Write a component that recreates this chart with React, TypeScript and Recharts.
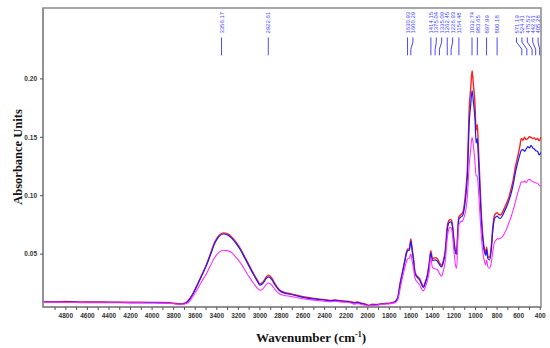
import { LineChart, Line, XAxis, YAxis, ReferenceLine, ReferenceDot, ReferenceArea, Label } from 'recharts';

// wavenumber (cm-1), descending
const wavenumbers = [
  5010, 4900, 4800, 4700, 4600, 4500, 4400, 4300, 4200, 4100, 4000, 3900, 3800, 3740, 3700, 3680, 3650,
  3620, 3580, 3540, 3500, 3460, 3420, 3380, 3340, 3300, 3260, 3220, 3180, 3140, 3100, 3060, 3020, 3000,
  2970, 2940, 2920, 2890, 2860, 2820, 2780, 2720, 2660, 2600, 2500, 2400, 2350, 2300, 2250, 2200, 2150,
  2120, 2100, 2060, 2020, 1990, 1960, 1920, 1880, 1840, 1800, 1760, 1740, 1720, 1700, 1680, 1660, 1640,
  1630, 1615, 1600, 1590, 1576, 1560, 1540, 1520, 1500, 1483, 1465, 1450, 1430, 1415, 1400, 1375, 1355,
  1335, 1315, 1300, 1280, 1262, 1245, 1230, 1217, 1200, 1185, 1175, 1165, 1155, 1140, 1120, 1105, 1090,
  1075, 1060, 1045, 1032, 1020, 1005, 995, 984, 975, 960, 945, 930, 915, 905, 898, 885, 870, 855, 840,
  825, 810, 800, 785, 770, 750, 730, 710, 690, 670, 650, 630, 610, 590, 575, 560, 545, 530, 515, 500,
  485, 470, 455, 440, 425, 410, 395,
];

const redAbs = [
  0.0093, 0.0092, 0.0094, 0.0091, 0.009, 0.009, 0.0089, 0.0089, 0.0088, 0.0088, 0.0087, 0.0085, 0.0079, 0.0074, 0.008, 0.0088, 0.012,
  0.0165, 0.024, 0.032, 0.04, 0.05, 0.06, 0.066, 0.0682, 0.0673, 0.0645, 0.06, 0.0545, 0.0475, 0.0405, 0.0335, 0.027, 0.0245,
  0.0262, 0.0305, 0.032, 0.0295, 0.0245, 0.0195, 0.0175, 0.0162, 0.0148, 0.0135, 0.012, 0.011, 0.0104, 0.0108, 0.01, 0.0097, 0.009,
  0.0084, 0.009, 0.008, 0.0072, 0.0062, 0.007, 0.0068, 0.0074, 0.0078, 0.008, 0.0088, 0.01, 0.0135, 0.025, 0.034, 0.043, 0.052,
  0.0545, 0.0545, 0.063, 0.056, 0.0463, 0.034, 0.031, 0.029, 0.025, 0.022, 0.0265, 0.031, 0.042, 0.053, 0.046, 0.047, 0.0462,
  0.0425, 0.0405, 0.044, 0.054, 0.074, 0.079, 0.0797, 0.077, 0.062, 0.0525, 0.052, 0.07, 0.082, 0.0835, 0.0855, 0.092, 0.105,
  0.125, 0.172, 0.192, 0.207, 0.195, 0.178, 0.156, 0.161, 0.145, 0.113, 0.082, 0.063, 0.053, 0.051, 0.056, 0.048, 0.047, 0.056, 0.073,
  0.083, 0.085, 0.0855, 0.084, 0.0835, 0.086, 0.09, 0.094, 0.099, 0.106, 0.114, 0.125, 0.133, 0.142, 0.149, 0.1475, 0.15, 0.148, 0.149, 0.1505,
  0.15, 0.149, 0.1495, 0.148, 0.149, 0.147, 0.15,
];

const blueAbs = [
  0.009, 0.009, 0.0089, 0.0088, 0.0087, 0.0087, 0.0086, 0.0086, 0.0085, 0.0085, 0.0084, 0.0082, 0.0077, 0.0072, 0.0077, 0.0085, 0.0115,
  0.016, 0.0235, 0.0315, 0.0395, 0.049, 0.059, 0.065, 0.0672, 0.0664, 0.0635, 0.059, 0.0535, 0.0465, 0.0395, 0.0325, 0.0262, 0.0235,
  0.0252, 0.0293, 0.0305, 0.0282, 0.0235, 0.0188, 0.0168, 0.0156, 0.0143, 0.013, 0.0116, 0.0106, 0.01, 0.0104, 0.0097, 0.0094, 0.0086,
  0.008, 0.0086, 0.0076, 0.0068, 0.0058, 0.0066, 0.0065, 0.0071, 0.0075, 0.0077, 0.0085, 0.0097, 0.013, 0.024, 0.033, 0.042, 0.0505,
  0.053, 0.0532, 0.061, 0.0545, 0.045, 0.033, 0.03, 0.028, 0.024, 0.0215, 0.0255, 0.03, 0.0405, 0.051, 0.0445, 0.045, 0.044,
  0.041, 0.039, 0.0425, 0.052, 0.071, 0.077, 0.0775, 0.075, 0.06, 0.0505, 0.05, 0.068, 0.08, 0.0815, 0.083, 0.089, 0.1,
  0.118, 0.16, 0.178, 0.19, 0.18, 0.165, 0.145, 0.149, 0.135, 0.105, 0.077, 0.06, 0.051, 0.049, 0.054, 0.046, 0.045, 0.053, 0.07,
  0.08, 0.082, 0.0825, 0.081, 0.0805, 0.083, 0.087, 0.091, 0.096, 0.102, 0.11, 0.12, 0.128, 0.135, 0.139, 0.1395, 0.138, 0.14, 0.142, 0.141,
  0.143, 0.141, 0.14, 0.1385, 0.138, 0.135, 0.137,
];

const magentaAbs = [
  0.0088, 0.0087, 0.0086, 0.0085, 0.0084, 0.0084, 0.0083, 0.0083, 0.0082, 0.0082, 0.0081, 0.008, 0.0075, 0.007, 0.0072, 0.0076, 0.01,
  0.014, 0.02, 0.0265, 0.0325, 0.04, 0.047, 0.0515, 0.0533, 0.053, 0.051, 0.047, 0.0425, 0.0365, 0.0305, 0.025, 0.0205, 0.019,
  0.0205, 0.024, 0.0252, 0.0235, 0.0195, 0.016, 0.0148, 0.0138, 0.0128, 0.0118, 0.0106, 0.0097, 0.0092, 0.0096, 0.009, 0.0088, 0.008,
  0.007, 0.0078, 0.0068, 0.0062, 0.0056, 0.0062, 0.0062, 0.0068, 0.0072, 0.0074, 0.008, 0.0088, 0.0112, 0.02, 0.029, 0.037, 0.044,
  0.046, 0.0465, 0.05, 0.045, 0.038, 0.029, 0.026, 0.024, 0.02, 0.0185, 0.022, 0.026, 0.035, 0.047, 0.0385, 0.0375, 0.0368,
  0.0335, 0.031, 0.035, 0.045, 0.064, 0.072, 0.073, 0.069, 0.052, 0.04, 0.0378, 0.06, 0.075, 0.0775, 0.0785, 0.082, 0.088,
  0.1, 0.125, 0.14, 0.15, 0.143, 0.128, 0.117, 0.117, 0.108, 0.085, 0.064, 0.05, 0.043, 0.041, 0.045, 0.039, 0.038, 0.042, 0.052,
  0.06, 0.062, 0.063, 0.063, 0.0635, 0.065, 0.068, 0.072, 0.077, 0.082, 0.088, 0.095, 0.102, 0.108, 0.112, 0.1115, 0.1125, 0.111, 0.1135, 0.114,
  0.113, 0.112, 0.1115, 0.111, 0.1105, 0.109, 0.108,
];

const peakLabels = [
  3356.17, 2922.61, 1630.93, 1600.29, 1414.15, 1375.04, 1335.09, 1262.45, 1226.93, 1154.48, 1032.74,
  983.65, 897.99, 800.18, 571.19, 524.41, 475.52, 442.61, 405.28,
];

const xTicks = [
  4900, 4800, 4700, 4600, 4500, 4400, 4300, 4200, 4100, 4000, 3900, 3800, 3700, 3600, 3500, 3400, 3300,
  3200, 3100, 3000, 2900, 2800, 2700, 2600, 2500, 2400, 2300, 2200, 2100, 2000, 1900, 1800, 1700, 1600,
  1500, 1400, 1300, 1200, 1100, 1000, 900, 800, 700, 600, 500, 400,
];
const yTicks = [0.05, 0.1, 0.15, 0.2];

const data = wavenumbers.map((w, i) => ({
  w,
  red: redAbs[i],
  blue: blueAbs[i],
  magenta: magentaAbs[i],
}));

// spread peak labels so they don't overlap (in wavenumber units)
const GAP = 50;
const MIN_W = 420;
function spreadLabels(peaks: number[]) {
  const pos = [...peaks];
  for (let i = 1; i < pos.length; i++) pos[i] = Math.min(pos[i], pos[i - 1] - GAP);
  pos[pos.length - 1] = Math.max(pos[pos.length - 1], MIN_W);
  for (let i = pos.length - 2; i >= 0; i--) pos[i] = Math.max(pos[i], pos[i + 1] + GAP);
  return pos;
}
const labelPos = spreadLabels(peakLabels);

// annotation heights (absorbance units)
const TXT_Y = 0.2388;
const L_TOP = 0.2355;
const L_BEND1 = 0.2315;
const L_BEND2 = 0.2255;
const L_BOT = 0.2202;

const X_DOMAIN = [393, 5012];
const Y_DOMAIN = [0.0047, 0.2607];
const AXIS_GRAY = '#8a8a8a';
const ANNO_BLUE = '#4848ff';

const tickStyle = { fontSize: 6.5, fontFamily: 'Arial, "Liberation Sans"', fontWeight: 700, fill: '#333' };

export default function App() {
  return (
    <div style={{ position: 'absolute', left: 0, top: 0, background: '#fff' }}>
      <LineChart width={550} height={348} data={data} margin={{ top: 8, right: 9, left: 0, bottom: 0 }}>
        <XAxis
          dataKey="w"
          type="number"
          domain={X_DOMAIN}
          allowDataOverflow
          reversed
          ticks={xTicks}
          interval={0}
          tickFormatter={(v: number) => (v % 200 === 0 ? String(v) : '')}
          tick={tickStyle}
          tickSize={3}
          tickMargin={3}
          height={41}
          axisLine={{ stroke: AXIS_GRAY, strokeWidth: 1.5 }}
          tickLine={{ stroke: '#555' }}
        >
          <Label
            content={() => (
              <text x={311} y={342} textAnchor="middle" fontFamily='"Liberation Serif", "Times New Roman", serif' fontWeight={700} fontSize={13} fill="#111">
                Wavenumber (cm<tspan dy={-5} fontSize={8}>-1</tspan><tspan dy={5}>)</tspan>
              </text>
            )}
          />
        </XAxis>
        <YAxis
          type="number"
          domain={Y_DOMAIN}
          allowDataOverflow
          ticks={yTicks}
          interval={0}
          tickFormatter={(v: number) => v.toFixed(2)}
          tick={tickStyle}
          tickSize={3}
          tickMargin={3}
          width={43}
          axisLine={{ stroke: AXIS_GRAY, strokeWidth: 1.5 }}
          tickLine={{ stroke: '#555' }}
        >
          <Label
            content={() => (
              <text x={22} y={157} transform="rotate(-90 22 157)" textAnchor="middle" fontFamily='"Liberation Serif", "Times New Roman", serif' fontWeight={700} fontSize={12.5} fill="#111">
                Absorbance Units
              </text>
            )}
          />
        </YAxis>
        <ReferenceArea x1={X_DOMAIN[0]} x2={X_DOMAIN[1]} y1={Y_DOMAIN[0]} y2={Y_DOMAIN[1]} fill="none" stroke={AXIS_GRAY} strokeWidth={1.5} ifOverflow="visible" />

        {peakLabels.map((w, i) => (
          <ReferenceLine key={`a${i}`} segment={[{ x: labelPos[i], y: L_TOP }, { x: labelPos[i], y: L_BEND1 }]} stroke={ANNO_BLUE} strokeWidth={1} />
        ))}
        {peakLabels.map((w, i) => (
          <ReferenceLine key={`b${i}`} segment={[{ x: labelPos[i], y: L_BEND1 }, { x: w, y: L_BEND2 }]} stroke={ANNO_BLUE} strokeWidth={1} />
        ))}
        {peakLabels.map((w, i) => (
          <ReferenceLine key={`c${i}`} segment={[{ x: w, y: L_BEND2 }, { x: w, y: L_BOT }]} stroke={ANNO_BLUE} strokeWidth={1} />
        ))}
        {peakLabels.map((w, i) => (
          <ReferenceDot
            key={`t${i}`}
            x={labelPos[i]}
            y={TXT_Y}
            r={1}
            shape={(p: any) => (
              <text
                x={p.cx + 2.2}
                y={p.cy}
                transform={`rotate(-90 ${p.cx + 2.2} ${p.cy})`}
                textAnchor="start"
                fontSize={6}
                fontFamily='Arial, "Liberation Sans"'
                fill={ANNO_BLUE}
              >
                {w.toFixed(2)}
              </text>
            )}
          />
        ))}

        <Line type="monotone" dataKey="red" stroke="#ff2020" strokeWidth={1.4} dot={false} isAnimationActive={false} />
        <Line type="monotone" dataKey="blue" stroke="#1a1aff" strokeWidth={1.2} dot={false} isAnimationActive={false} />
        <Line type="monotone" dataKey="magenta" stroke="#ff30ff" strokeWidth={1.1} dot={false} isAnimationActive={false} />
      </LineChart>
    </div>
  );
}
